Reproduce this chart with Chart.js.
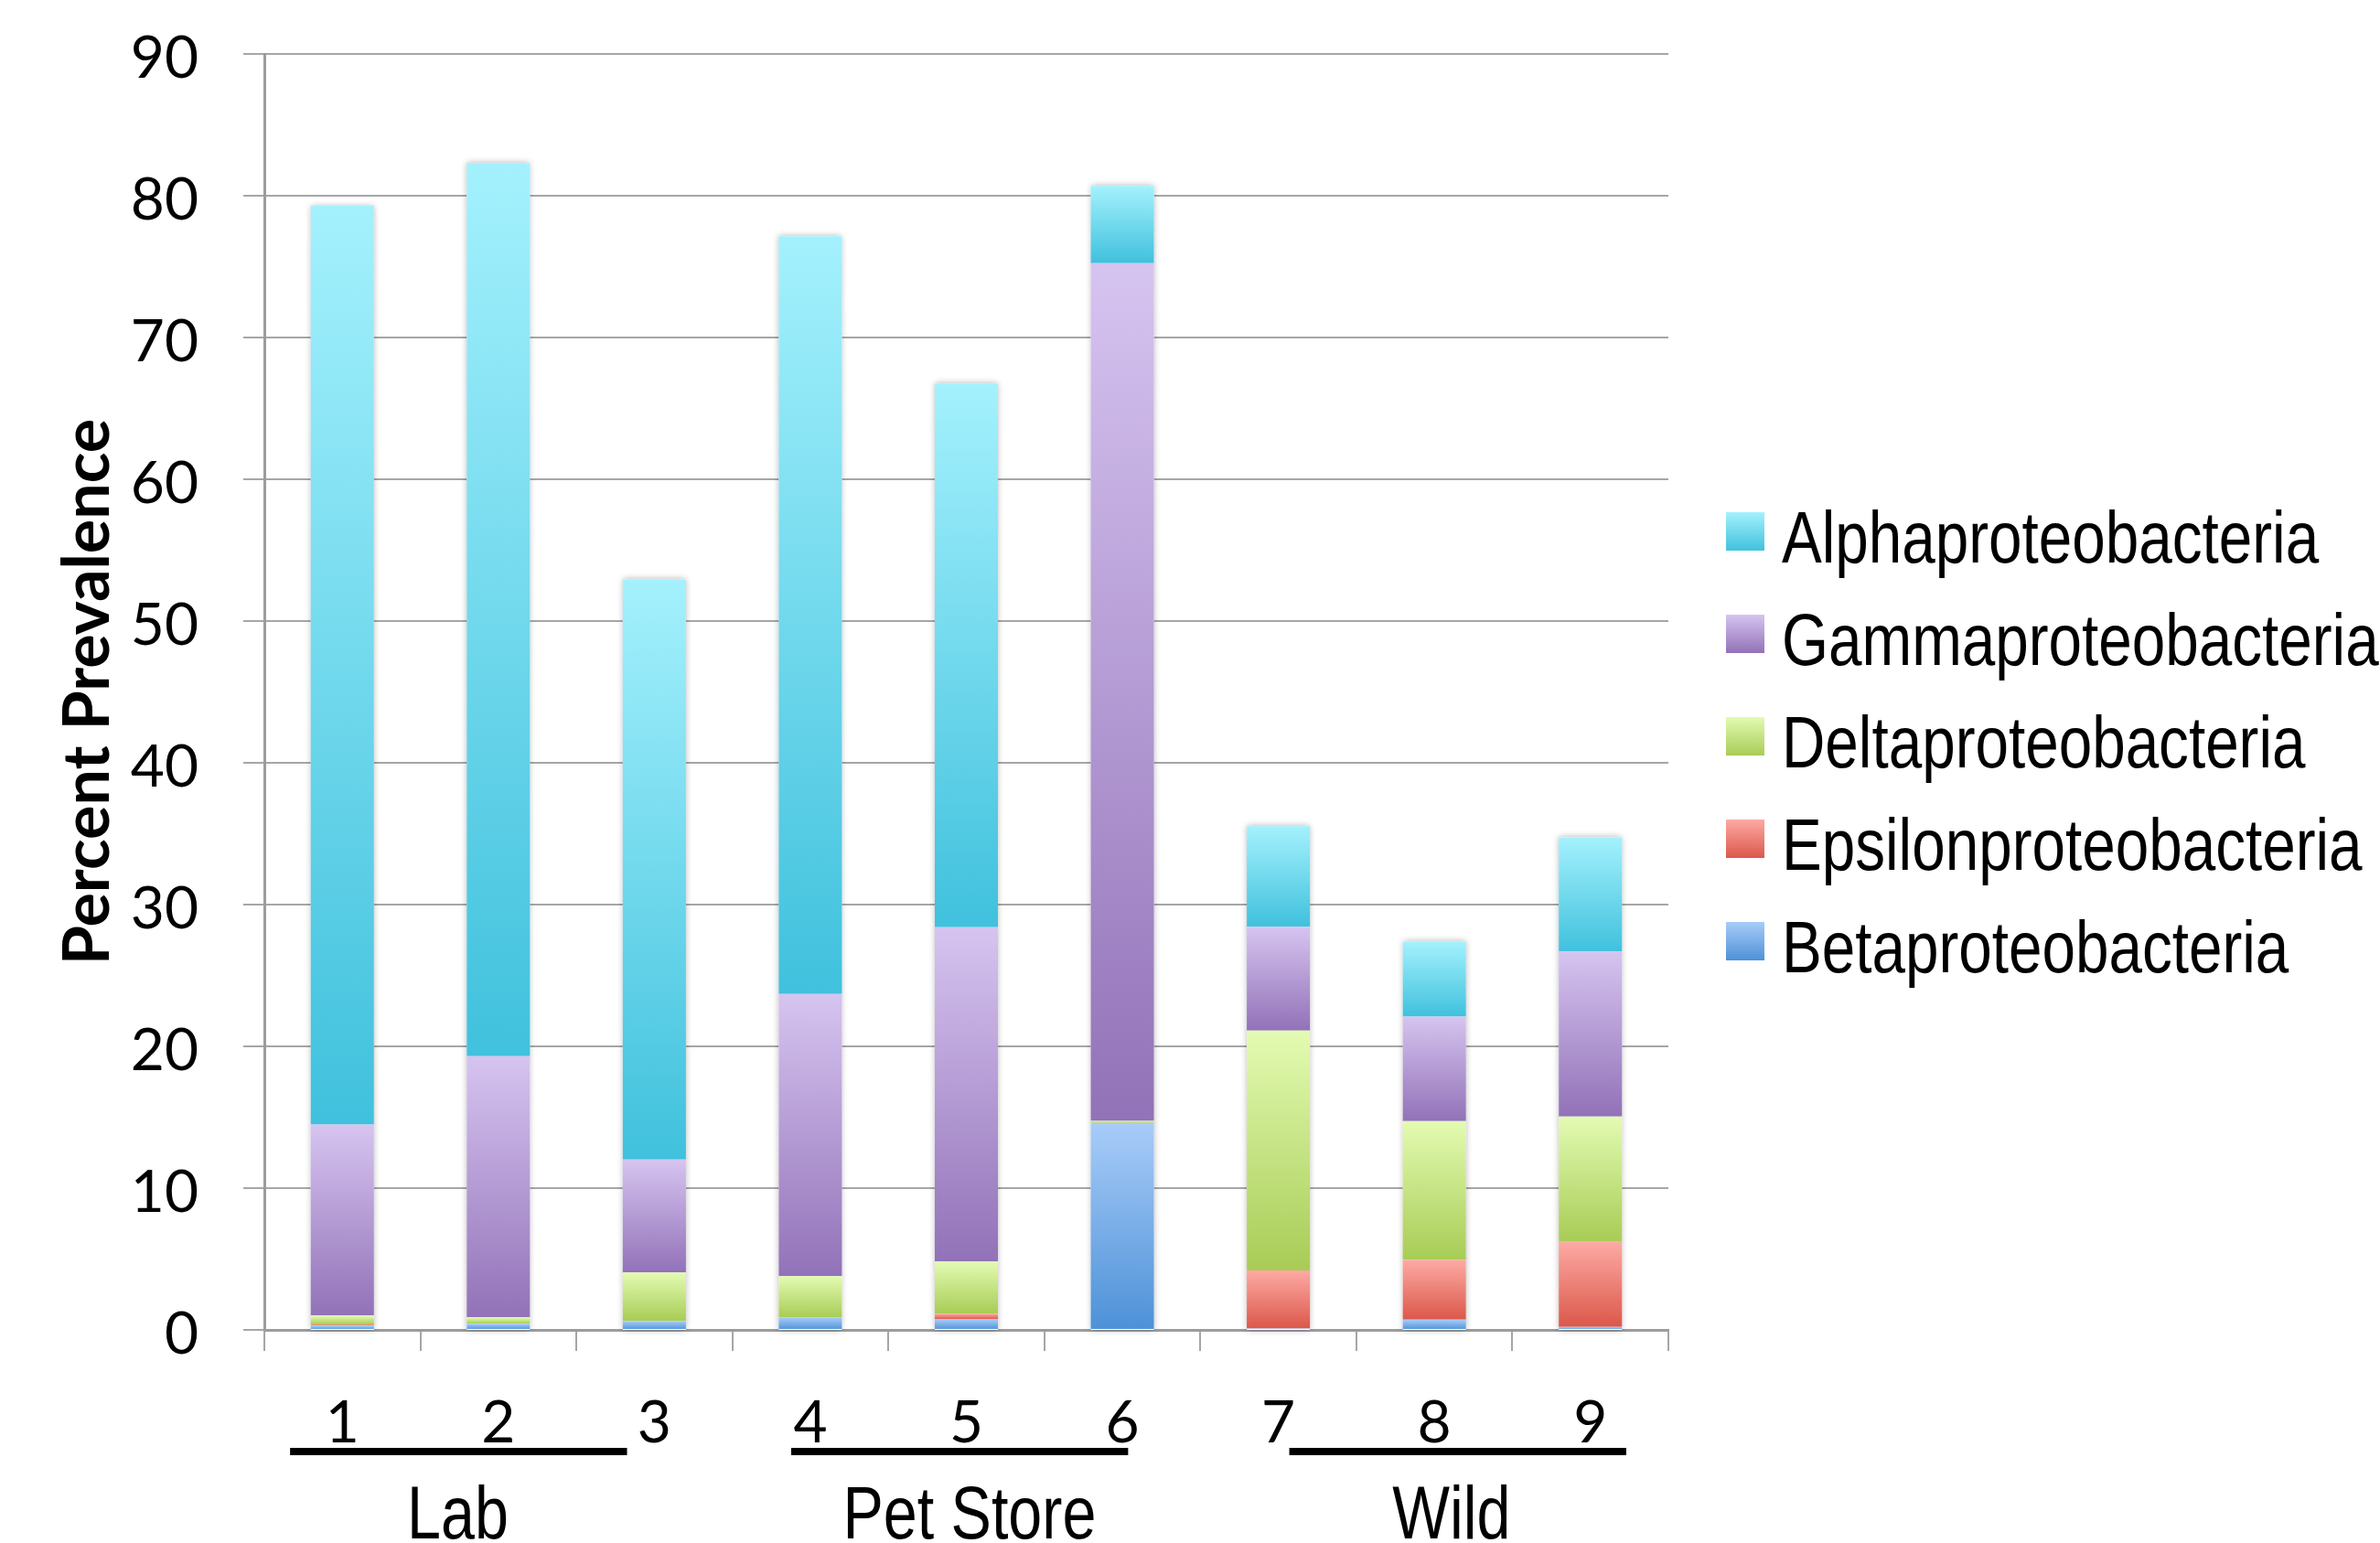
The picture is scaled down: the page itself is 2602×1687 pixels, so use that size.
<!DOCTYPE html>
<html>
<head>
<meta charset="utf-8">
<script src="https://cdn.jsdelivr.net/npm/chart.js@4.4.1/dist/chart.umd.min.js"></script>
<style>
  html, body { margin: 0; padding: 0; background: #ffffff; }
  #wrap { width: 2602px; height: 1687px; position: relative; }
</style>
</head>
<body>
<div id="wrap"><canvas id="chart" width="2602" height="1687"></canvas></div>
<script>
// ---- data -------------------------------------------------------------
const samples = ['1', '2', '3', '4', '5', '6', '7', '8', '9'];

// percent prevalence of each class per sample (stacked bottom -> top)
const betaproteobacteria    = [0.30, 0.43, 0.62, 0.88, 0.75, 14.60, 0.10, 0.72, 0.21];
const epsilonproteobacteria = [0.09, 0.00, 0.00, 0.00, 0.39,  0.00, 4.10, 4.21, 6.00];
const deltaproteobacteria   = [0.62, 0.45, 3.43, 2.91, 3.68,  0.15, 16.92, 9.80, 8.84];
const gammaproteobacteria   = [13.48, 18.42, 7.97, 19.91, 23.59, 60.50, 7.31, 7.36, 11.64];
const alphaproteobacteria   = [64.81, 63.00, 40.92, 53.45, 38.35, 5.45, 7.10, 5.30, 8.06];

const seriesNames = ['Betaproteobacteria', 'Epsilonproteobacteria', 'Deltaproteobacteria',
                     'Gammaproteobacteria', 'Alphaproteobacteria'];
const seriesValues = [betaproteobacteria, epsilonproteobacteria, deltaproteobacteria,
                      gammaproteobacteria, alphaproteobacteria];

const yTickValues = [0, 10, 20, 30, 40, 50, 60, 70, 80, 90];
const axisTitle = 'Percent Prevalence';

const groupNames = ['Lab', 'Pet Store', 'Wild'];

// ---- styles & layout ----------------------------------------------------
// vertical gradient per class: [top colour, bottom colour]
const classColors = {
  Alphaproteobacteria:   ['#a4f1fd', '#40c1dd'],
  Gammaproteobacteria:   ['#d6c4f0', '#9272b8'],
  Deltaproteobacteria:   ['#e3fbb2', '#a8cc56'],
  Epsilonproteobacteria: ['#fdaaa4', '#db584a'],
  Betaproteobacteria:    ['#a8ccf9', '#4d91d7']
};

// group underline spans and label anchors, in category-index units
const groupLineSpan = [[-0.335, 1.825], [2.877, 5.037], [6.07, 8.23]];
const groupLabelAt = [0.74, 4.02, 7.11];
const GROUP_LINE_Y = 1587;
const GROUP_LABEL_BASELINE = 1682;

const LEGEND = { x: 1887, firstCenter: 581, step: 112, box: 42, gap: 19, size: 80, baselineShift: 34 };

const GRID = '#a6a6a6';
const AXIS = '#9c9c9c';

// ---- narrow sans helper -------------------------------------------------
let narrowScale = null;
function narrowFont(size) {
  return size + 'px "Liberation Sans Narrow", "Liberation Sans", Arial, sans-serif';
}
function getNarrowScale(ctx) {
  if (narrowScale !== null) return narrowScale;
  ctx.save();
  ctx.font = '100px "Liberation Sans Narrow", "Liberation Sans"';
  const a = ctx.measureText('Alphaproteobacteria').width;
  ctx.font = '100px "Liberation Sans"';
  const b = ctx.measureText('Alphaproteobacteria').width;
  ctx.restore();
  narrowScale = (a / b > 0.95) ? 0.82 : 1;
  return narrowScale;
}
function drawNarrow(ctx, text, x, y, size, align) {
  const s = getNarrowScale(ctx);
  ctx.save();
  ctx.font = narrowFont(size);
  ctx.textAlign = align;
  ctx.textBaseline = 'alphabetic';
  ctx.fillStyle = '#000000';
  ctx.translate(x, y);
  ctx.scale(s, 1);
  ctx.fillText(text, 0, 0);
  ctx.restore();
}

// ---- scriptable gradient fill for each stacked segment -------------------
function segmentGradient(c) {
  const chart = c.chart;
  const name = chart.data.datasets[c.datasetIndex].label;
  const [topC, botC] = classColors[name];
  const yScale = chart.scales.y;
  if (!chart.chartArea || !yScale) return botC;
  let base = 0;
  for (let k = 0; k < c.datasetIndex; k++) base += chart.data.datasets[k].data[c.dataIndex];
  const v = chart.data.datasets[c.datasetIndex].data[c.dataIndex];
  const top = yScale.getPixelForValue(base + v);
  const bot = yScale.getPixelForValue(base);
  if (!isFinite(top) || !isFinite(bot) || bot - top < 0.5) return botC;
  const g = chart.ctx.createLinearGradient(0, top, 0, bot);
  g.addColorStop(0, topC);
  g.addColorStop(1, botC);
  return g;
}

// soft shadow behind each whole stacked bar
const barShadow = {
  id: 'barShadow',
  beforeDatasetsDraw(chart) {
    const ctx = chart.ctx;
    const yScale = chart.scales.y;
    const meta = chart.getDatasetMeta(0);
    ctx.save();
    ctx.shadowColor = 'rgba(0,0,0,0.30)';
    ctx.shadowBlur = 7;
    ctx.fillStyle = '#ffffff';
    meta.data.forEach((el, i) => {
      let total = 0;
      chart.data.datasets.forEach(ds => { total += ds.data[i]; });
      const top = yScale.getPixelForValue(total);
      const bot = yScale.getPixelForValue(0);
      ctx.fillRect(el.x - el.width / 2, top, el.width, bot - top);
    });
    ctx.restore();
  }
};

// sample-group underlines and names under the axis
const groupMarks = {
  id: 'groupMarks',
  afterDraw(chart) {
    const ctx = chart.ctx;
    const x = chart.scales.x;
    ctx.save();
    ctx.strokeStyle = '#000000';
    ctx.lineWidth = 8;
    ctx.lineCap = 'butt';
    groupLineSpan.forEach(([a, b]) => {
      ctx.beginPath();
      ctx.moveTo(x.getPixelForValue(a), GROUP_LINE_Y);
      ctx.lineTo(x.getPixelForValue(b), GROUP_LINE_Y);
      ctx.stroke();
    });
    ctx.restore();
    groupNames.forEach((name, i) => {
      drawNarrow(ctx, name, x.getPixelForValue(groupLabelAt[i]), GROUP_LABEL_BASELINE, 81, 'center');
    });
  }
};

// legend column on the right (top class first)
const classLegend = {
  id: 'classLegend',
  afterDraw(chart) {
    const ctx = chart.ctx;
    const items = chart.data.datasets.map(d => d.label).reverse();
    items.forEach((name, i) => {
      const cy = LEGEND.firstCenter + i * LEGEND.step;
      const top = cy - LEGEND.box / 2;
      const [topC, botC] = classColors[name];
      const g = ctx.createLinearGradient(0, top, 0, top + LEGEND.box);
      g.addColorStop(0, topC);
      g.addColorStop(1, botC);
      ctx.save();
      ctx.fillStyle = g;
      ctx.fillRect(LEGEND.x, top, LEGEND.box, LEGEND.box);
      ctx.restore();
      drawNarrow(ctx, name, LEGEND.x + LEGEND.box + LEGEND.gap, cy + LEGEND.baselineShift, LEGEND.size, 'left');
    });
  }
};

const datasets = seriesNames.map((name, i) => ({
  label: name,
  data: seriesValues[i],
  backgroundColor: segmentGradient,
  borderWidth: 0,
  categoryPercentage: 1.0,
  barPercentage: 0.405,
  stack: 'all'
}));

new Chart(document.getElementById('chart'), {
  type: 'bar',
  data: { labels: samples, datasets: datasets },
  plugins: [barShadow, groupMarks, classLegend],
  options: {
    responsive: false,
    animation: false,
    events: [],
    layout: { padding: { left: 0, top: 59, right: 778, bottom: 0 } },
    plugins: {
      legend: { display: false },
      tooltip: { enabled: false },
      title: { display: false }
    },
    scales: {
      x: {
        stacked: true,
        afterFit(scale) {
          scale.height = 233;
          scale.paddingLeft = 0;
          scale.paddingRight = 0;
        },
        grid: {
          display: true,
          drawOnChartArea: false,
          drawTicks: true,
          tickLength: 23,
          color: GRID,
          lineWidth: 2,
          offset: true
        },
        border: { display: true, color: AXIS, width: 3 },
        ticks: {
          color: '#000000',
          padding: 41,
          maxRotation: 0,
          font: { family: 'Lato', size: 64 }
        }
      },
      y: {
        stacked: true,
        min: 0,
        max: 90,
        afterFit(scale) {
          scale.width = 289;
          scale.paddingTop = 0;
          scale.paddingBottom = 0;
        },
        afterBuildTicks(scale) { scale.ticks = yTickValues.map(v => ({ value: v })); },
        grid: {
          color: GRID,
          lineWidth: 2,
          tickLength: 23,
          drawTicks: true
        },
        border: { display: true, color: AXIS, width: 3 },
        ticks: {
          color: '#000000',
          padding: 49,
          labelOffset: 5,
          font: { family: 'Lato', size: 64 }
        },
        title: {
          display: true,
          text: axisTitle,
          color: '#000000',
          font: { family: 'Lato', size: 70, weight: 'bold' },
          padding: { top: 54, bottom: 0 }
        }
      }
    }
  }
});
</script>
</body>
</html>
